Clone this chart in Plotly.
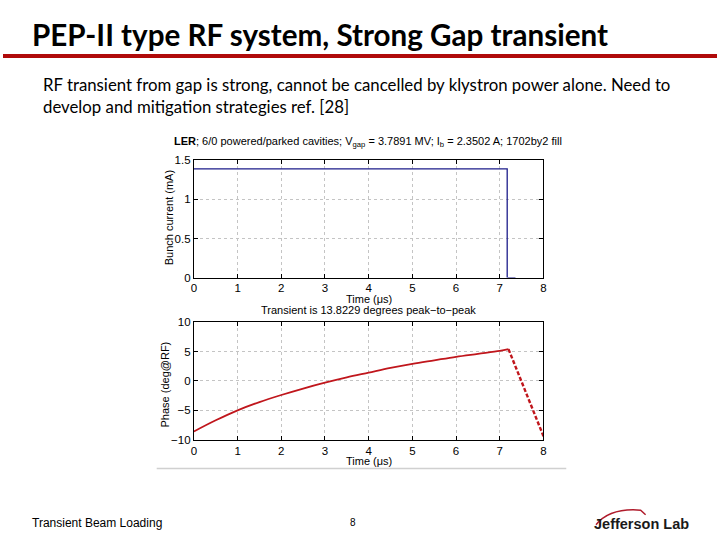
import plotly.graph_objects as go

# ---- data ----
t_current = [0.0, 7.17, 7.17, 7.36]
bunch_current = [1.39, 1.39, 0.0, 0.0]

t_phase = [0.0, 0.5, 1.0, 1.5, 2.0, 2.5, 3.0, 3.5, 4.0, 4.5, 5.0, 5.5, 6.0, 6.5, 7.0, 7.2]
phase = [-8.6, -6.7, -5.0, -3.6, -2.4, -1.3, -0.3, 0.6, 1.4, 2.2, 2.9, 3.5, 4.1, 4.6, 5.1, 5.4]
t_gap = [7.2, 8.0]
phase_gap = [5.4, -9.4]

x_ticks = [0, 1, 2, 3, 4, 5, 6, 7, 8]
y1_ticks = [0, 0.5, 1, 1.5]
y1_ticklabels = ["0", "0.5", "1", "1.5"]
y2_ticks = [-10, -5, 0, 5, 10]
y2_ticklabels = ["\u221210", "\u22125", "0", "5", "10"]

W, H = 720, 540
def px_x(p): return p / W
def px_y(p):
    # compensate for the vertical offset/scale observed in the rendered page
    q = (p - 7.8) / 0.971
    return 1 - q / H

fig = go.Figure()
fig.add_trace(go.Scatter(x=t_current, y=bunch_current, mode="lines",
                         line=dict(color="#1c1c8a", width=1.3),
                         xaxis="x", yaxis="y", showlegend=False))
fig.add_trace(go.Scatter(x=t_phase, y=phase, mode="lines",
                         line=dict(color="#c0161c", width=1.8, shape="spline"),
                         xaxis="x2", yaxis="y2", showlegend=False))
fig.add_trace(go.Scatter(x=t_gap, y=phase_gap, mode="lines",
                         line=dict(color="#c0161c", width=2.4, dash="4px,2px"),
                         xaxis="x2", yaxis="y2", showlegend=False))

AX_FONT = "Liberation Sans, Arial"
tickfont = dict(family=AX_FONT, size=11.5, color="black")
common_ax = dict(showline=True, linecolor="black", linewidth=1, mirror="ticks",
                 ticks="inside", ticklen=4, tickcolor="black",
                 showgrid=True, gridcolor="#c4c4c4", griddash="dot", gridwidth=1,
                 zeroline=False, tickfont=tickfont)

xdom = [px_x(192.5), px_x(545)]
fig.update_layout(
    width=W, height=H, margin=dict(l=0, r=0, t=0, b=0),
    paper_bgcolor="white", plot_bgcolor="white",
    xaxis=dict(domain=xdom, range=[0, 8], tickvals=x_ticks, anchor="y", **common_ax),
    yaxis=dict(domain=[px_y(277.5), px_y(161)], range=[0, 1.5], tickvals=y1_ticks,
               ticktext=y1_ticklabels, anchor="x", **common_ax),
    xaxis2=dict(domain=xdom, range=[0, 8], tickvals=x_ticks, anchor="y2", **common_ax),
    yaxis2=dict(domain=[px_y(438.5), px_y(321.7)], range=[-10, 10], tickvals=y2_ticks,
                ticktext=y2_ticklabels, anchor="x2", **common_ax),
)

def note(text, x, y, size, family, xanchor="left", color="black", align="left", angle=0):
    return dict(text=text, x=px_x(x), y=px_y(y), xref="paper", yref="paper",
                xanchor=xanchor, yanchor="middle", align=align, showarrow=False,
                textangle=angle, font=dict(family=family, size=size, color=color))

ann = [
    note("<b>PEP-II type RF system, Strong Gap transient</b>", 27, 36, 29.6, "Lato"),
    note("RF transient from gap is strong, cannot be cancelled by klystron power alone. Need to<br>develop and mitigation strategies ref. [28]",
         38, 97, 16.8, "Lato"),
    note("<b>LER</b>; 6/0 powered/parked cavities; V<sub>gap</sub> = 3.7891 MV; I<sub>b</sub> = 2.3502 A; 1702by2 fill",
         368, 143, 11, AX_FONT, xanchor="center"),
    note("Bunch current (mA)", 167, 218, 11, AX_FONT, xanchor="center", angle=-90),
    note("Time (\u03bcs)", 369, 298.5, 11, AX_FONT, xanchor="center"),
    note("Transient is 13.8229 degrees peak\u2212to\u2212peak", 369, 309.5, 11, AX_FONT, xanchor="center"),
    note("Phase (deg@RF)", 163, 384, 11, AX_FONT, xanchor="center", angle=-90),
    note("Time (\u03bcs)", 369, 460, 11, AX_FONT, xanchor="center"),
    note("Transient Beam Loading", 27, 521, 12, AX_FONT),
    note("8", 353, 521, 10, AX_FONT, xanchor="center"),
    note("<b>Jefferson Lab</b>", 644, 522, 14.5, AX_FONT, xanchor="center", color="#1a1a1a"),
]
fig.update_layout(annotations=ann)

shapes = [
    dict(type="line", xref="paper", yref="paper", x0=0, x1=1, y0=px_y(57.5), y1=px_y(57.5),
         line=dict(color="#b00a0a", width=4)),
    dict(type="line", xref="paper", yref="paper", x0=px_x(155), x1=px_x(568),
         y0=px_y(467), y1=px_y(467), line=dict(color="#d0d0d0", width=1.5)),
    dict(type="path", xref="paper", yref="paper",
         path=(f"M {px_x(598)},{px_y(523)} Q {px_x(612)},{px_y(506)} {px_x(643)},{px_y(508.5)} "
               f"L {px_x(648)},{px_y(513)}"),
         line=dict(color="#b01c2c", width=1.5)),
]
fig.update_layout(shapes=shapes)

fig.write_html("out.html")
